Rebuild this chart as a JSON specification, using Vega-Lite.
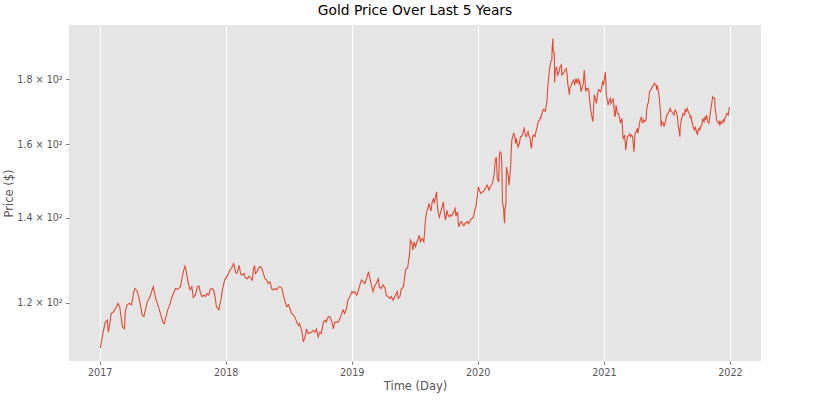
{
  "$schema": "https://vega.github.io/schema/vega-lite/v6.json",
  "width": 692,
  "height": 336,
  "autosize": "none",
  "padding": {"left": 69, "top": 25, "right": 69, "bottom": 39},
  "background": "white",
  "title": {"text": "Gold Price Over Last 5 Years", "font": "DejaVu Sans", "fontSize": 13.8, "fontWeight": "normal", "color": "#000000", "anchor": "middle", "offset": 7},
  "config": {
    "view": {"fill": "#E5E5E5", "stroke": null},
    "axis": {"labelFont": "DejaVu Sans", "titleFont": "DejaVu Sans", "labelColor": "#555555", "titleColor": "#555555", "labelFontSize": 9.6, "titleFontSize": 11.5, "titleFontWeight": "normal", "tickColor": "#555555", "tickSize": 3.4, "tickWidth": 0.8, "labelPadding": 3.4, "domain": false}
  },
  "data": {"values": [
    {"date": "2017-01-03", "price": 110.5}, {"date": "2017-01-09", "price": 113.0}, {"date": "2017-01-17", "price": 115.8}, {"date": "2017-01-23", "price": 116.2}, {"date": "2017-01-26", "price": 113.7}, {"date": "2017-01-31", "price": 115.8}, {"date": "2017-02-03", "price": 117.6}, {"date": "2017-02-10", "price": 118.0}, {"date": "2017-02-16", "price": 118.7}, {"date": "2017-02-23", "price": 119.8}, {"date": "2017-02-28", "price": 119.1}, {"date": "2017-03-03", "price": 117.3}, {"date": "2017-03-08", "price": 114.8}, {"date": "2017-03-14", "price": 114.4}, {"date": "2017-03-16", "price": 118.0}, {"date": "2017-03-21", "price": 119.5}, {"date": "2017-03-28", "price": 119.8}, {"date": "2017-04-03", "price": 119.5}, {"date": "2017-04-10", "price": 122.4}, {"date": "2017-04-13", "price": 123.1}, {"date": "2017-04-19", "price": 122.6}, {"date": "2017-04-24", "price": 121.3}, {"date": "2017-04-28", "price": 119.8}, {"date": "2017-05-04", "price": 117.3}, {"date": "2017-05-09", "price": 117.0}, {"date": "2017-05-15", "price": 118.9}, {"date": "2017-05-19", "price": 120.2}, {"date": "2017-05-26", "price": 121.1}, {"date": "2017-06-05", "price": 123.5}, {"date": "2017-06-08", "price": 122.4}, {"date": "2017-06-13", "price": 120.7}, {"date": "2017-06-20", "price": 119.1}, {"date": "2017-06-26", "price": 117.6}, {"date": "2017-07-03", "price": 115.8}, {"date": "2017-07-07", "price": 115.5}, {"date": "2017-07-11", "price": 116.6}, {"date": "2017-07-17", "price": 118.4}, {"date": "2017-07-24", "price": 119.7}, {"date": "2017-07-28", "price": 120.9}, {"date": "2017-08-03", "price": 122.1}, {"date": "2017-08-09", "price": 123.1}, {"date": "2017-08-15", "price": 122.9}, {"date": "2017-08-23", "price": 123.5}, {"date": "2017-08-28", "price": 125.7}, {"date": "2017-09-01", "price": 127.1}, {"date": "2017-09-05", "price": 128.2}, {"date": "2017-09-07", "price": 127.7}, {"date": "2017-09-11", "price": 125.9}, {"date": "2017-09-15", "price": 124.2}, {"date": "2017-09-20", "price": 122.8}, {"date": "2017-09-25", "price": 123.5}, {"date": "2017-09-29", "price": 121.1}, {"date": "2017-10-05", "price": 121.6}, {"date": "2017-10-11", "price": 123.5}, {"date": "2017-10-16", "price": 123.6}, {"date": "2017-10-19", "price": 122.4}, {"date": "2017-10-24", "price": 121.3}, {"date": "2017-10-30", "price": 121.6}, {"date": "2017-11-03", "price": 121.3}, {"date": "2017-11-08", "price": 122.0}, {"date": "2017-11-13", "price": 121.6}, {"date": "2017-11-17", "price": 122.9}, {"date": "2017-11-22", "price": 123.1}, {"date": "2017-11-27", "price": 122.8}, {"date": "2017-12-01", "price": 121.3}, {"date": "2017-12-05", "price": 119.2}, {"date": "2017-12-12", "price": 118.4}, {"date": "2017-12-15", "price": 119.5}, {"date": "2017-12-19", "price": 120.9}, {"date": "2017-12-22", "price": 122.6}, {"date": "2017-12-29", "price": 125.0},
    {"date": "2018-01-02", "price": 125.5}, {"date": "2018-01-05", "price": 125.9}, {"date": "2018-01-10", "price": 126.6}, {"date": "2018-01-12", "price": 127.1}, {"date": "2018-01-18", "price": 127.7}, {"date": "2018-01-24", "price": 128.8}, {"date": "2018-01-26", "price": 128.2}, {"date": "2018-01-29", "price": 126.9}, {"date": "2018-02-02", "price": 126.5}, {"date": "2018-02-06", "price": 127.4}, {"date": "2018-02-09", "price": 128.4}, {"date": "2018-02-13", "price": 126.6}, {"date": "2018-02-16", "price": 126.1}, {"date": "2018-02-23", "price": 126.5}, {"date": "2018-02-27", "price": 125.5}, {"date": "2018-03-05", "price": 125.3}, {"date": "2018-03-09", "price": 125.9}, {"date": "2018-03-14", "price": 125.5}, {"date": "2018-03-19", "price": 125.0}, {"date": "2018-03-23", "price": 127.9}, {"date": "2018-03-26", "price": 128.2}, {"date": "2018-03-28", "price": 126.5}, {"date": "2018-04-02", "price": 126.9}, {"date": "2018-04-06", "price": 127.7}, {"date": "2018-04-11", "price": 128.1}, {"date": "2018-04-16", "price": 127.7}, {"date": "2018-04-20", "price": 126.5}, {"date": "2018-04-25", "price": 125.3}, {"date": "2018-04-30", "price": 125.0}, {"date": "2018-05-04", "price": 124.2}, {"date": "2018-05-09", "price": 124.6}, {"date": "2018-05-15", "price": 122.9}, {"date": "2018-05-18", "price": 122.8}, {"date": "2018-05-24", "price": 123.1}, {"date": "2018-05-29", "price": 122.8}, {"date": "2018-06-04", "price": 123.5}, {"date": "2018-06-08", "price": 123.5}, {"date": "2018-06-13", "price": 123.1}, {"date": "2018-06-18", "price": 121.3}, {"date": "2018-06-22", "price": 120.2}, {"date": "2018-06-27", "price": 119.1}, {"date": "2018-07-02", "price": 119.5}, {"date": "2018-07-06", "price": 118.7}, {"date": "2018-07-11", "price": 117.6}, {"date": "2018-07-16", "price": 117.3}, {"date": "2018-07-20", "price": 116.9}, {"date": "2018-07-26", "price": 115.8}, {"date": "2018-07-31", "price": 115.1}, {"date": "2018-08-03", "price": 115.5}, {"date": "2018-08-09", "price": 114.1}, {"date": "2018-08-14", "price": 111.7}, {"date": "2018-08-20", "price": 113.0}, {"date": "2018-08-23", "price": 114.4}, {"date": "2018-08-28", "price": 113.4}, {"date": "2018-09-04", "price": 113.7}, {"date": "2018-09-07", "price": 113.7}, {"date": "2018-09-12", "price": 114.1}, {"date": "2018-09-17", "price": 113.7}, {"date": "2018-09-21", "price": 114.4}, {"date": "2018-09-26", "price": 112.7}, {"date": "2018-10-01", "price": 113.7}, {"date": "2018-10-05", "price": 113.4}, {"date": "2018-10-11", "price": 115.8}, {"date": "2018-10-16", "price": 116.2}, {"date": "2018-10-19", "price": 115.8}, {"date": "2018-10-25", "price": 116.9}, {"date": "2018-10-30", "price": 116.9}, {"date": "2018-11-05", "price": 115.8}, {"date": "2018-11-09", "price": 114.4}, {"date": "2018-11-13", "price": 115.8}, {"date": "2018-11-19", "price": 115.8}, {"date": "2018-11-23", "price": 115.8}, {"date": "2018-11-28", "price": 116.6}, {"date": "2018-12-03", "price": 117.6}, {"date": "2018-12-07", "price": 118.4}, {"date": "2018-12-12", "price": 117.6}, {"date": "2018-12-17", "price": 118.7}, {"date": "2018-12-21", "price": 120.5}, {"date": "2018-12-27", "price": 121.3},
    {"date": "2019-01-02", "price": 122.4}, {"date": "2019-01-04", "price": 122.1}, {"date": "2019-01-10", "price": 122.4}, {"date": "2019-01-15", "price": 121.6}, {"date": "2019-01-18", "price": 122.0}, {"date": "2019-01-25", "price": 123.9}, {"date": "2019-01-29", "price": 125.0}, {"date": "2019-02-04", "price": 124.6}, {"date": "2019-02-08", "price": 124.2}, {"date": "2019-02-13", "price": 125.3}, {"date": "2019-02-19", "price": 126.9}, {"date": "2019-02-22", "price": 125.7}, {"date": "2019-02-27", "price": 123.9}, {"date": "2019-03-04", "price": 122.4}, {"date": "2019-03-08", "price": 123.5}, {"date": "2019-03-13", "price": 124.2}, {"date": "2019-03-19", "price": 125.3}, {"date": "2019-03-22", "price": 123.5}, {"date": "2019-03-27", "price": 123.1}, {"date": "2019-04-02", "price": 123.9}, {"date": "2019-04-08", "price": 123.1}, {"date": "2019-04-11", "price": 121.6}, {"date": "2019-04-16", "price": 121.3}, {"date": "2019-04-22", "price": 120.9}, {"date": "2019-04-26", "price": 121.3}, {"date": "2019-05-01", "price": 120.5}, {"date": "2019-05-06", "price": 121.3}, {"date": "2019-05-13", "price": 122.4}, {"date": "2019-05-16", "price": 120.9}, {"date": "2019-05-21", "price": 121.3}, {"date": "2019-05-24", "price": 122.8}, {"date": "2019-05-31", "price": 123.5}, {"date": "2019-06-04", "price": 126.0}, {"date": "2019-06-07", "price": 127.5}, {"date": "2019-06-12", "price": 127.8}, {"date": "2019-06-18", "price": 131.2}, {"date": "2019-06-20", "price": 134.4}, {"date": "2019-06-25", "price": 133.6}, {"date": "2019-06-27", "price": 132.0}, {"date": "2019-07-01", "price": 134.0}, {"date": "2019-07-05", "price": 132.8}, {"date": "2019-07-09", "price": 134.0}, {"date": "2019-07-12", "price": 134.4}, {"date": "2019-07-16", "price": 135.6}, {"date": "2019-07-19", "price": 134.0}, {"date": "2019-07-24", "price": 134.8}, {"date": "2019-07-29", "price": 134.0}, {"date": "2019-07-31", "price": 136.0}, {"date": "2019-08-02", "price": 138.6}, {"date": "2019-08-06", "price": 141.5}, {"date": "2019-08-09", "price": 142.1}, {"date": "2019-08-13", "price": 143.7}, {"date": "2019-08-16", "price": 142.6}, {"date": "2019-08-19", "price": 141.7}, {"date": "2019-08-22", "price": 143.9}, {"date": "2019-08-26", "price": 145.0}, {"date": "2019-08-28", "price": 143.7}, {"date": "2019-09-03", "price": 146.3}, {"date": "2019-09-04", "price": 146.7}, {"date": "2019-09-06", "price": 143.3}, {"date": "2019-09-09", "price": 141.1}, {"date": "2019-09-12", "price": 140.1}, {"date": "2019-09-16", "price": 141.5}, {"date": "2019-09-20", "price": 142.8}, {"date": "2019-09-24", "price": 144.1}, {"date": "2019-09-26", "price": 141.5}, {"date": "2019-09-30", "price": 139.4}, {"date": "2019-10-02", "price": 140.7}, {"date": "2019-10-04", "price": 141.9}, {"date": "2019-10-07", "price": 140.7}, {"date": "2019-10-11", "price": 140.2}, {"date": "2019-10-15", "price": 140.7}, {"date": "2019-10-18", "price": 140.4}, {"date": "2019-10-22", "price": 141.2}, {"date": "2019-10-28", "price": 142.4}, {"date": "2019-10-30", "price": 140.4}, {"date": "2019-11-04", "price": 141.5}, {"date": "2019-11-06", "price": 138.6}, {"date": "2019-11-08", "price": 137.7}, {"date": "2019-11-11", "price": 138.6}, {"date": "2019-11-15", "price": 139.0}, {"date": "2019-11-19", "price": 138.2}, {"date": "2019-11-22", "price": 138.0}, {"date": "2019-11-26", "price": 138.6}, {"date": "2019-12-02", "price": 139.0}, {"date": "2019-12-05", "price": 138.5}, {"date": "2019-12-09", "price": 139.0}, {"date": "2019-12-12", "price": 139.6}, {"date": "2019-12-16", "price": 139.8}, {"date": "2019-12-20", "price": 140.2}, {"date": "2019-12-24", "price": 142.1}, {"date": "2019-12-27", "price": 142.8}, {"date": "2019-12-31", "price": 145.4},
    {"date": "2020-01-03", "price": 148.1}, {"date": "2020-01-06", "price": 147.2}, {"date": "2020-01-10", "price": 146.3}, {"date": "2020-01-14", "price": 146.7}, {"date": "2020-01-17", "price": 146.7}, {"date": "2020-01-22", "price": 147.4}, {"date": "2020-01-24", "price": 147.9}, {"date": "2020-01-29", "price": 148.5}, {"date": "2020-02-03", "price": 147.2}, {"date": "2020-02-06", "price": 148.1}, {"date": "2020-02-10", "price": 148.5}, {"date": "2020-02-14", "price": 149.4}, {"date": "2020-02-18", "price": 151.7}, {"date": "2020-02-21", "price": 155.4}, {"date": "2020-02-24", "price": 156.3}, {"date": "2020-02-27", "price": 150.3}, {"date": "2020-03-02", "price": 149.4}, {"date": "2020-03-04", "price": 156.8}, {"date": "2020-03-06", "price": 157.8}, {"date": "2020-03-09", "price": 157.5}, {"date": "2020-03-11", "price": 154.5}, {"date": "2020-03-12", "price": 148.5}, {"date": "2020-03-13", "price": 144.0}, {"date": "2020-03-16", "price": 142.5}, {"date": "2020-03-18", "price": 139.5}, {"date": "2020-03-19", "price": 138.6}, {"date": "2020-03-20", "price": 142.0}, {"date": "2020-03-23", "price": 143.5}, {"date": "2020-03-24", "price": 152.0}, {"date": "2020-03-25", "price": 153.5}, {"date": "2020-03-27", "price": 152.0}, {"date": "2020-03-30", "price": 151.0}, {"date": "2020-04-01", "price": 148.5}, {"date": "2020-04-03", "price": 150.5}, {"date": "2020-04-06", "price": 154.4}, {"date": "2020-04-07", "price": 157.3}, {"date": "2020-04-09", "price": 161.2}, {"date": "2020-04-14", "price": 163.2}, {"date": "2020-04-17", "price": 162.7}, {"date": "2020-04-20", "price": 160.2}, {"date": "2020-04-22", "price": 161.7}, {"date": "2020-04-24", "price": 160.7}, {"date": "2020-04-27", "price": 159.2}, {"date": "2020-05-01", "price": 160.2}, {"date": "2020-05-04", "price": 162.2}, {"date": "2020-05-07", "price": 162.2}, {"date": "2020-05-11", "price": 163.2}, {"date": "2020-05-13", "price": 164.2}, {"date": "2020-05-15", "price": 164.7}, {"date": "2020-05-18", "price": 162.7}, {"date": "2020-05-21", "price": 162.2}, {"date": "2020-05-26", "price": 163.7}, {"date": "2020-05-28", "price": 162.7}, {"date": "2020-06-01", "price": 161.7}, {"date": "2020-06-03", "price": 159.7}, {"date": "2020-06-05", "price": 158.8}, {"date": "2020-06-08", "price": 162.0}, {"date": "2020-06-11", "price": 162.7}, {"date": "2020-06-15", "price": 162.2}, {"date": "2020-06-18", "price": 163.7}, {"date": "2020-06-22", "price": 165.4}, {"date": "2020-06-24", "price": 166.7}, {"date": "2020-06-29", "price": 167.2}, {"date": "2020-07-01", "price": 168.2}, {"date": "2020-07-02", "price": 167.7}, {"date": "2020-07-07", "price": 169.8}, {"date": "2020-07-10", "price": 170.5}, {"date": "2020-07-15", "price": 169.8}, {"date": "2020-07-20", "price": 173.3}, {"date": "2020-07-22", "price": 177.1}, {"date": "2020-07-24", "price": 179.8}, {"date": "2020-07-28", "price": 184.0}, {"date": "2020-07-31", "price": 185.9}, {"date": "2020-08-03", "price": 186.5}, {"date": "2020-08-04", "price": 190.5}, {"date": "2020-08-06", "price": 193.9}, {"date": "2020-08-07", "price": 189.5}, {"date": "2020-08-10", "price": 189.0}, {"date": "2020-08-11", "price": 179.0}, {"date": "2020-08-13", "price": 183.0}, {"date": "2020-08-17", "price": 184.2}, {"date": "2020-08-18", "price": 183.1}, {"date": "2020-08-20", "price": 181.4}, {"date": "2020-08-24", "price": 182.5}, {"date": "2020-08-27", "price": 184.2}, {"date": "2020-08-31", "price": 184.8}, {"date": "2020-09-01", "price": 181.4}, {"date": "2020-09-04", "price": 181.9}, {"date": "2020-09-08", "price": 182.5}, {"date": "2020-09-10", "price": 183.1}, {"date": "2020-09-14", "price": 183.6}, {"date": "2020-09-16", "price": 181.9}, {"date": "2020-09-18", "price": 178.7}, {"date": "2020-09-23", "price": 175.0}, {"date": "2020-09-24", "price": 177.1}, {"date": "2020-09-28", "price": 178.1}, {"date": "2020-09-30", "price": 178.7}, {"date": "2020-10-02", "price": 179.2}, {"date": "2020-10-05", "price": 179.8}, {"date": "2020-10-08", "price": 178.1}, {"date": "2020-10-12", "price": 180.3}, {"date": "2020-10-15", "price": 178.7}, {"date": "2020-10-19", "price": 180.3}, {"date": "2020-10-21", "price": 178.7}, {"date": "2020-10-23", "price": 179.2}, {"date": "2020-10-27", "price": 176.0}, {"date": "2020-10-29", "price": 177.1}, {"date": "2020-11-02", "price": 178.7}, {"date": "2020-11-05", "price": 183.1}, {"date": "2020-11-09", "price": 176.0}, {"date": "2020-11-10", "price": 177.1}, {"date": "2020-11-13", "price": 176.6}, {"date": "2020-11-16", "price": 177.1}, {"date": "2020-11-18", "price": 176.6}, {"date": "2020-11-20", "price": 173.9}, {"date": "2020-11-23", "price": 170.8}, {"date": "2020-11-27", "price": 168.2}, {"date": "2020-11-30", "price": 166.7}, {"date": "2020-12-02", "price": 170.8}, {"date": "2020-12-04", "price": 175.0}, {"date": "2020-12-07", "price": 173.9}, {"date": "2020-12-10", "price": 172.3}, {"date": "2020-12-14", "price": 175.5}, {"date": "2020-12-16", "price": 176.6}, {"date": "2020-12-18", "price": 176.6}, {"date": "2020-12-22", "price": 176.0}, {"date": "2020-12-24", "price": 176.6}, {"date": "2020-12-28", "price": 179.2}, {"date": "2020-12-31", "price": 178.4},
    {"date": "2021-01-05", "price": 182.5}, {"date": "2021-01-06", "price": 180.3}, {"date": "2021-01-08", "price": 174.4}, {"date": "2021-01-11", "price": 173.3}, {"date": "2021-01-13", "price": 171.8}, {"date": "2021-01-15", "price": 172.8}, {"date": "2021-01-19", "price": 173.9}, {"date": "2021-01-21", "price": 172.3}, {"date": "2021-01-25", "price": 173.3}, {"date": "2021-01-27", "price": 173.9}, {"date": "2021-01-29", "price": 172.3}, {"date": "2021-02-01", "price": 168.2}, {"date": "2021-02-03", "price": 168.7}, {"date": "2021-02-05", "price": 171.8}, {"date": "2021-02-09", "price": 169.2}, {"date": "2021-02-12", "price": 169.2}, {"date": "2021-02-16", "price": 167.2}, {"date": "2021-02-18", "price": 166.2}, {"date": "2021-02-22", "price": 167.7}, {"date": "2021-02-25", "price": 162.2}, {"date": "2021-02-26", "price": 161.7}, {"date": "2021-03-02", "price": 162.7}, {"date": "2021-03-05", "price": 158.3}, {"date": "2021-03-08", "price": 160.7}, {"date": "2021-03-10", "price": 162.2}, {"date": "2021-03-15", "price": 162.7}, {"date": "2021-03-16", "price": 163.2}, {"date": "2021-03-19", "price": 162.2}, {"date": "2021-03-22", "price": 162.7}, {"date": "2021-03-25", "price": 162.2}, {"date": "2021-03-29", "price": 157.8}, {"date": "2021-03-31", "price": 161.2}, {"date": "2021-04-01", "price": 163.2}, {"date": "2021-04-05", "price": 163.7}, {"date": "2021-04-08", "price": 164.7}, {"date": "2021-04-09", "price": 163.2}, {"date": "2021-04-12", "price": 164.7}, {"date": "2021-04-14", "price": 166.2}, {"date": "2021-04-16", "price": 167.2}, {"date": "2021-04-20", "price": 168.2}, {"date": "2021-04-22", "price": 166.2}, {"date": "2021-04-26", "price": 167.2}, {"date": "2021-04-28", "price": 166.7}, {"date": "2021-05-03", "price": 167.2}, {"date": "2021-05-05", "price": 170.8}, {"date": "2021-05-07", "price": 171.8}, {"date": "2021-05-10", "price": 172.8}, {"date": "2021-05-13", "price": 176.0}, {"date": "2021-05-17", "price": 176.6}, {"date": "2021-05-19", "price": 177.1}, {"date": "2021-05-21", "price": 177.6}, {"date": "2021-05-25", "price": 178.1}, {"date": "2021-05-27", "price": 178.7}, {"date": "2021-06-01", "price": 178.1}, {"date": "2021-06-03", "price": 176.6}, {"date": "2021-06-04", "price": 178.1}, {"date": "2021-06-07", "price": 176.6}, {"date": "2021-06-10", "price": 174.4}, {"date": "2021-06-14", "price": 169.2}, {"date": "2021-06-16", "price": 165.2}, {"date": "2021-06-18", "price": 166.7}, {"date": "2021-06-22", "price": 166.2}, {"date": "2021-06-24", "price": 165.2}, {"date": "2021-06-28", "price": 166.7}, {"date": "2021-06-30", "price": 167.7}, {"date": "2021-07-02", "price": 168.7}, {"date": "2021-07-06", "price": 169.2}, {"date": "2021-07-08", "price": 169.8}, {"date": "2021-07-12", "price": 170.8}, {"date": "2021-07-14", "price": 169.8}, {"date": "2021-07-16", "price": 169.8}, {"date": "2021-07-20", "price": 169.2}, {"date": "2021-07-23", "price": 168.7}, {"date": "2021-07-26", "price": 170.3}, {"date": "2021-07-29", "price": 169.8}, {"date": "2021-08-02", "price": 168.2}, {"date": "2021-08-04", "price": 165.2}, {"date": "2021-08-06", "price": 164.5}, {"date": "2021-08-09", "price": 162.2}, {"date": "2021-08-10", "price": 165.2}, {"date": "2021-08-13", "price": 167.2}, {"date": "2021-08-16", "price": 168.2}, {"date": "2021-08-18", "price": 169.2}, {"date": "2021-08-23", "price": 168.7}, {"date": "2021-08-24", "price": 170.3}, {"date": "2021-08-27", "price": 169.8}, {"date": "2021-08-30", "price": 170.8}, {"date": "2021-09-02", "price": 169.8}, {"date": "2021-09-07", "price": 168.7}, {"date": "2021-09-08", "price": 167.7}, {"date": "2021-09-10", "price": 168.2}, {"date": "2021-09-14", "price": 166.2}, {"date": "2021-09-16", "price": 165.2}, {"date": "2021-09-20", "price": 164.2}, {"date": "2021-09-22", "price": 165.2}, {"date": "2021-09-29", "price": 162.7}, {"date": "2021-10-01", "price": 164.2}, {"date": "2021-10-04", "price": 164.7}, {"date": "2021-10-06", "price": 164.2}, {"date": "2021-10-08", "price": 165.2}, {"date": "2021-10-12", "price": 165.7}, {"date": "2021-10-14", "price": 167.7}, {"date": "2021-10-18", "price": 166.7}, {"date": "2021-10-21", "price": 168.2}, {"date": "2021-10-22", "price": 167.2}, {"date": "2021-10-25", "price": 168.7}, {"date": "2021-10-28", "price": 166.7}, {"date": "2021-11-01", "price": 166.2}, {"date": "2021-11-02", "price": 166.7}, {"date": "2021-11-05", "price": 169.2}, {"date": "2021-11-08", "price": 171.3}, {"date": "2021-11-12", "price": 174.4}, {"date": "2021-11-16", "price": 173.9}, {"date": "2021-11-18", "price": 173.9}, {"date": "2021-11-19", "price": 170.8}, {"date": "2021-11-22", "price": 168.7}, {"date": "2021-11-23", "price": 167.2}, {"date": "2021-11-29", "price": 166.2}, {"date": "2021-12-01", "price": 166.7}, {"date": "2021-12-03", "price": 165.7}, {"date": "2021-12-06", "price": 166.7}, {"date": "2021-12-09", "price": 166.2}, {"date": "2021-12-13", "price": 167.2}, {"date": "2021-12-15", "price": 166.7}, {"date": "2021-12-17", "price": 167.7}, {"date": "2021-12-20", "price": 168.2}, {"date": "2021-12-23", "price": 169.2}, {"date": "2021-12-27", "price": 168.7}, {"date": "2021-12-30", "price": 170.8}, {"date": "2021-12-31", "price": 171.1}
  ]},
  "mark": {"type": "line", "color": "#E24A33", "strokeWidth": 1.1, "interpolate": "linear"},
  "encoding": {
    "x": {
      "field": "date", "type": "temporal",
      "scale": {"domain": [{"year": 2016, "month": 10, "date": 4}, {"year": 2022, "month": 4, "date": 1}], "nice": false},
      "axis": {"title": "Time (Day)", "format": "%Y", "tickCount": {"interval": "year", "step": 1}, "grid": true, "gridColor": "#FFFFFF", "gridWidth": 1, "titlePadding": 3, "labelFlush": false}
    },
    "y": {
      "field": "price", "type": "quantitative",
      "scale": {"type": "log", "domain": [107.9, 198.7], "nice": false},
      "axis": {"title": "Price ($)", "values": [120, 140, 160, 180], "labelExpr": "format(datum.value / 100, '.1f') + ' × 10²'", "grid": false, "titlePadding": 2}
    }
  }
}
